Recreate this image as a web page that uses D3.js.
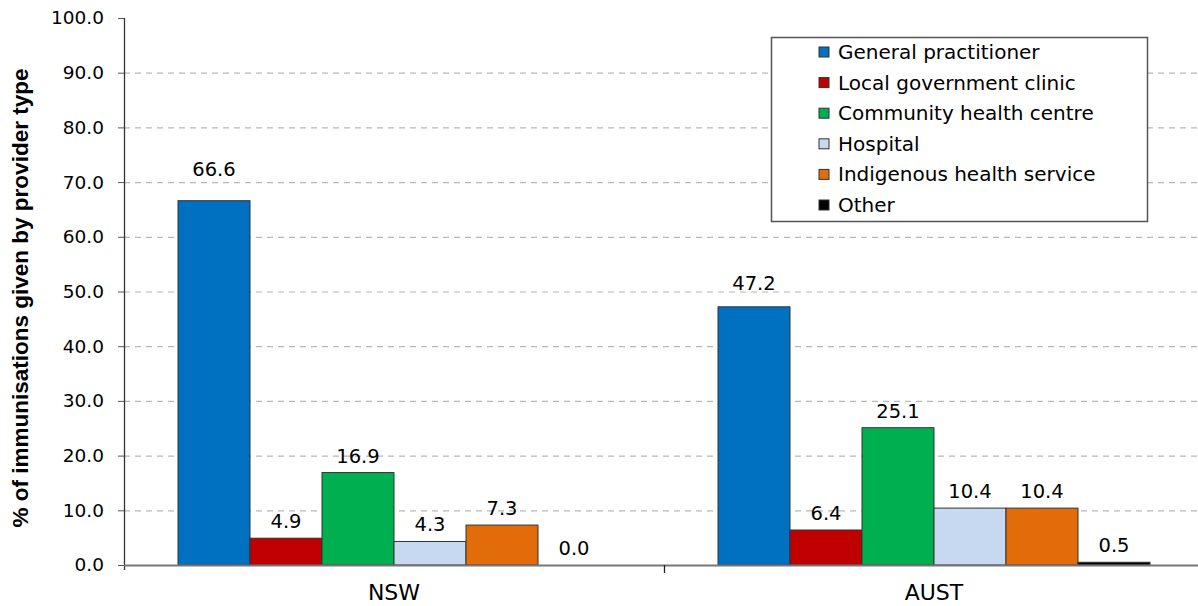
<!DOCTYPE html>
<html>
<head>
<meta charset="utf-8">
<script src="https://cdn.jsdelivr.net/npm/d3@7/dist/d3.min.js"></script>
<style>
  html, body { margin: 0; padding: 0; background: #fff; }
  svg { display: block; }
</style>
</head>
<body>
<svg id="chart" width="1198" height="606"></svg>
<script>
// Share of immunisations given by provider type, NSW vs Australia
const regions = ["NSW", "AUST"];
const providers = [
  "General practitioner",
  "Local government clinic",
  "Community health centre",
  "Hospital",
  "Indigenous health service",
  "Other"
];
const nswValues  = [66.6, 4.9, 16.9, 4.3, 7.3, 0.0];
const austValues = [47.2, 6.4, 25.1, 10.4, 10.4, 0.5];
const providerColors = ["#0070C0", "#C00000", "#00B050", "#C6D9F0", "#E36C0A", "#000000"];
const yTicks = [0, 10, 20, 30, 40, 50, 60, 70, 80, 90, 100];
const yTitle = "% of immunisations given by provider type";

const valuesByRegion = { NSW: nswValues, AUST: austValues };

const svg = d3.select("#chart");
const plotLeft = 124, plotRight = 1204, plotTop = 18, plotBottom = 565;
const bodyFont = "'DejaVu Sans', Verdana, sans-serif";

const x0 = d3.scaleBand().domain(regions).range([plotLeft, plotRight]).paddingInner(0).paddingOuter(0);
const x1 = d3.scaleBand().domain(providers).range([0, x0.bandwidth()]).paddingOuter(0.75).paddingInner(0);
const y = d3.scaleLinear().domain([0, 100]).range([plotBottom, plotTop]);
const color = d3.scaleOrdinal().domain(providers).range(providerColors);

// dashed gridlines
svg.append("g")
  .selectAll("line")
  .data(yTicks.filter(t => t > 0 && t < 100))
  .join("line")
  .attr("x1", plotLeft).attr("x2", plotRight)
  .attr("y1", d => y(d) + 0.5).attr("y2", d => y(d) + 0.5)
  .attr("stroke", "#b8b8b8")
  .attr("stroke-width", 1.2)
  .attr("stroke-dasharray", "6,5");

// y axis
const yAxis = svg.append("g")
  .attr("transform", `translate(${plotLeft},0)`)
  .call(d3.axisLeft(y).tickValues(yTicks).tickFormat(d3.format(".1f")).tickSize(6).tickPadding(14));
yAxis.select(".domain").attr("stroke", "#333").attr("stroke-width", 1.3)
  .attr("d", `M0.5,${plotTop}V${plotBottom + 5}`);
yAxis.selectAll(".tick line").attr("stroke", "#555");
yAxis.selectAll(".tick text")
  .attr("font-family", bodyFont)
  .attr("font-size", 18.5)
  .attr("fill", "#000");

// bars
const groups = svg.append("g")
  .selectAll("g")
  .data(regions)
  .join("g")
  .attr("transform", d => `translate(${x0(d)},0)`);

groups.selectAll("rect")
  .data(r => providers.map((p, i) => ({ region: r, provider: p, value: valuesByRegion[r][i] })))
  .join("rect")
  .attr("x", d => x1(d.provider))
  .attr("y", d => y(d.value))
  .attr("width", x1.bandwidth())
  .attr("height", d => y(0) - y(d.value))
  .attr("fill", d => color(d.provider))
  .attr("stroke", "#333")
  .attr("stroke-width", 1);

// value labels above bars (tall bars get a slightly larger gap)
groups.selectAll("text")
  .data(r => providers.map((p, i) => ({ region: r, provider: p, value: valuesByRegion[r][i] })))
  .join("text")
  .attr("x", d => x1(d.provider) + x1.bandwidth() / 2)
  .attr("y", d => y(d.value) - 10 - Math.max(0, d.value - 30) * 0.4)
  .attr("text-anchor", "middle")
  .attr("font-family", bodyFont)
  .attr("font-size", 19.5)
  .attr("fill", "#000")
  .text(d => d3.format(".1f")(d.value));

// x axis
const xAxis = svg.append("g").attr("transform", `translate(0,${plotBottom})`);
xAxis.append("line")
  .attr("x1", plotLeft).attr("x2", plotRight)
  .attr("y1", 0.5).attr("y2", 0.5)
  .attr("stroke", "#777").attr("stroke-width", 2);
xAxis.selectAll(".sep")
  .data(regions.slice(1))
  .join("line")
  .attr("class", "sep")
  .attr("x1", d => x0(d) + 0.5).attr("x2", d => x0(d) + 0.5)
  .attr("y1", 0).attr("y2", 8)
  .attr("stroke", "#222").attr("stroke-width", 1.3);
xAxis.selectAll("text")
  .data(regions)
  .join("text")
  .attr("x", d => x0(d) + x0.bandwidth() / 2)
  .attr("y", 35)
  .attr("text-anchor", "middle")
  .attr("font-family", bodyFont)
  .attr("font-size", 22)
  .attr("fill", "#000")
  .text(d => d);

// y axis title
svg.append("text")
  .attr("transform", `translate(28,298) rotate(-90)`)
  .attr("text-anchor", "middle")
  .attr("font-family", "'Liberation Sans', Arial, sans-serif")
  .attr("font-weight", "bold")
  .attr("font-size", 22.5)
  .attr("fill", "#000")
  .text(yTitle);

// legend
const legend = svg.append("g").attr("transform", "translate(771,37)");
legend.append("rect")
  .attr("x", 0.5).attr("y", 0.5)
  .attr("width", 376).attr("height", 184)
  .attr("fill", "#fff")
  .attr("stroke", "#555")
  .attr("stroke-width", 1.5);
const items = legend.selectAll("g.item")
  .data(providers)
  .join("g")
  .attr("class", "item")
  .attr("transform", (d, i) => `translate(48,${15 + i * 30.6})`);
items.append("rect")
  .attr("x", 0).attr("y", -5)
  .attr("width", 10).attr("height", 10)
  .attr("fill", d => color(d))
  .attr("stroke", "#333")
  .attr("stroke-width", 1);
items.append("text")
  .attr("x", 19).attr("y", 7)
  .attr("font-family", bodyFont)
  .attr("font-size", 20)
  .attr("fill", "#000")
  .text(d => d);
</script>
</body>
</html>
